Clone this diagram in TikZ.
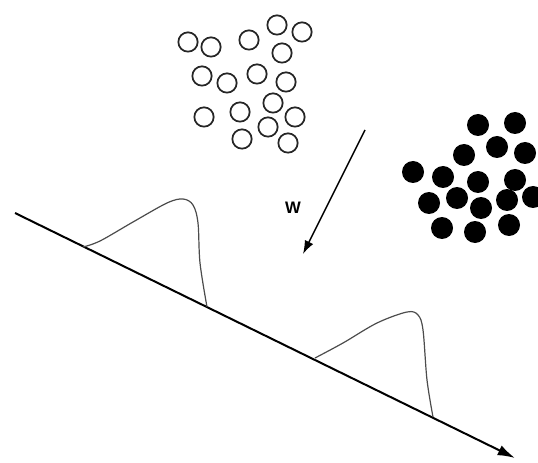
\documentclass[tikz,border=0pt]{standalone}
\usepackage{fontspec}
\setsansfont{Liberation Sans}
\usetikzlibrary{arrows.meta}
\begin{document}
\begin{tikzpicture}[x=0.75pt,y=-0.75pt,
  opendot/.style={circle,draw=black!85,line width=1.3pt,minimum size=14.5pt,inner sep=0pt},
  fulldot/.style={circle,fill=black,minimum size=16.5pt,inner sep=0pt},
  axisline/.style={line width=1.5pt,-{Latex[length=13pt,width=8pt]}},
  hump/.style={line width=0.9pt,draw=black!70},
  warrow/.style={line width=1.1pt,-{Latex[length=10pt,width=7pt]}},
  wlabel/.style={font=\sffamily\bfseries\fontsize{12.5}{12.5}\selectfont}]
\useasboundingbox (0,0) rectangle (538,463);
% open circles
\foreach \i/\x/\y in {1/188/42,2/211/47,3/249/40,4/277/25,5/302/32,6/282/53,
  7/202/76,8/227/83,9/257/74,10/286/82,11/204/117,12/240/112,13/273/103,
  14/295/117,15/268/127,16/242/139,17/288/143}
  \node[opendot] (o\i) at (\x,\y) {};
% filled circles
\foreach \i/\x/\y in {1/478/125,2/515/123,3/497/147,4/464/155,5/525/153,
  6/413/172,7/443/177,8/478/182,9/515/180,10/429/203,11/457/198,12/481/208,
  13/507/200,14/533/197,15/442/228,16/475/232,17/509/225}
  \node[fulldot] (f\i) at (\x,\y) {};
% main axis
\coordinate (start) at (15,213);
\coordinate (tip) at (515,458);
\draw[axisline] (start) -- (tip);
% humps
\draw[hump] plot[smooth,tension=0.55] coordinates {(83,247) (100,241) (133,222) (167,203) (183,199) (193,205) (198,223) (200,263) (207,307)};
\draw[hump] plot[smooth,tension=0.55] coordinates {(315,358) (343,343) (377,323) (407,312) (418,315) (423,330) (427,380) (433,417)};
% W arrow
\coordinate (wstart) at (365,130);
\coordinate (wend) at (303,254);
\draw[warrow] (wstart) -- (wend);
\node[wlabel] (w) at (293,208) {W};
\end{tikzpicture}
\end{document}
